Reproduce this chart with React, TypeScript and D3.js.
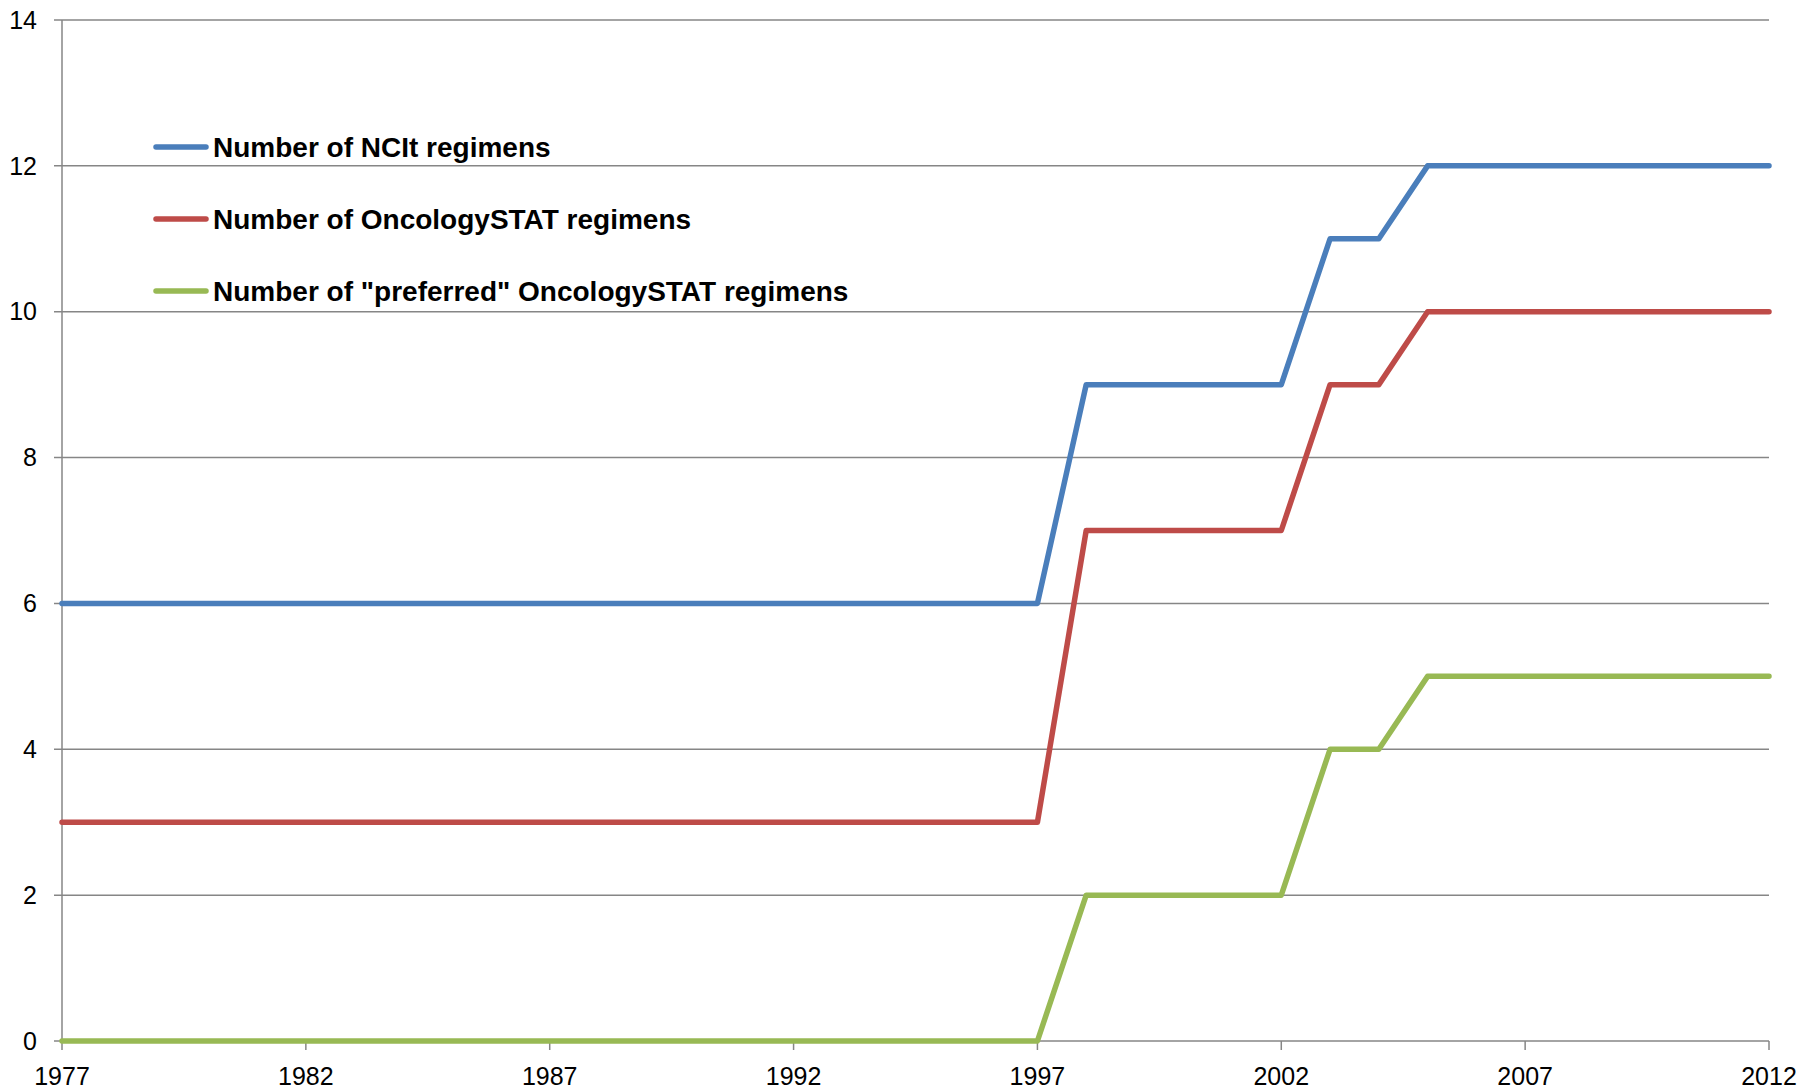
import React from 'react';
import * as d3 from 'd3';

// years 1977..2012, one point per year
const years = [
  1977, 1978, 1979, 1980, 1981, 1982, 1983, 1984, 1985, 1986, 1987, 1988,
  1989, 1990, 1991, 1992, 1993, 1994, 1995, 1996, 1997, 1998, 1999, 2000,
  2001, 2002, 2003, 2004, 2005, 2006, 2007, 2008, 2009, 2010, 2011, 2012,
];

const ncit = [
  6, 6, 6, 6, 6, 6, 6, 6, 6, 6, 6, 6, 6, 6, 6, 6, 6, 6, 6, 6, 6,
  9, 9, 9, 9, 9, 11, 11, 12, 12, 12, 12, 12, 12, 12, 12,
];
const oncologyStat = [
  3, 3, 3, 3, 3, 3, 3, 3, 3, 3, 3, 3, 3, 3, 3, 3, 3, 3, 3, 3, 3,
  7, 7, 7, 7, 7, 9, 9, 10, 10, 10, 10, 10, 10, 10, 10,
];
const preferred = [
  0, 0, 0, 0, 0, 0, 0, 0, 0, 0, 0, 0, 0, 0, 0, 0, 0, 0, 0, 0, 0,
  2, 2, 2, 2, 2, 4, 4, 5, 5, 5, 5, 5, 5, 5, 5,
];

const seriesNames = [
  'Number of NCIt regimens',
  'Number of OncologySTAT regimens',
  'Number of "preferred" OncologySTAT regimens',
];
const seriesColors = ['#4A7EBB', '#BE4B48', '#98B954'];

const xTickYears = [1977, 1982, 1987, 1992, 1997, 2002, 2007, 2012];
const yTicks = [0, 2, 4, 6, 8, 10, 12, 14];

const W = 1813;
const H = 1090;
const AXIS = '#868686';
const FONT = '"Liberation Sans", Arial, sans-serif';

export default function App() {
  const x = d3.scaleLinear().domain([1977, 2012]).range([62, 1769]);
  const y = d3.scaleLinear().domain([0, 14]).range([1041, 20]);

  const series = [ncit, oncologyStat, preferred];
  const line = d3
    .line<number>()
    .x((_, i) => x(years[i]))
    .y((d) => y(d));

  return (
    <svg
      width={W}
      height={H}
      style={{ position: 'absolute', left: 0, top: 0, background: '#fff' }}
    >
      {/* horizontal grid + y ticks */}
      {yTicks.map((t) => (
        <g key={t}>
          <line x1={54} x2={1769} y1={y(t)} y2={y(t)} stroke={AXIS} strokeWidth={1.5} />
          <text
            x={37}
            y={y(t)}
            dy="0.35em"
            textAnchor="end"
            fontFamily={FONT}
            fontSize={25}
            fill="#000"
          >
            {t}
          </text>
        </g>
      ))}

      {/* y axis line */}
      <line x1={62} x2={62} y1={y(14)} y2={y(0)} stroke={AXIS} strokeWidth={1.5} />

      {/* x ticks */}
      {xTickYears.map((yr) => (
        <g key={yr}>
          <line x1={x(yr)} x2={x(yr)} y1={y(0)} y2={y(0) + 9} stroke={AXIS} strokeWidth={1.5} />
          <text
            x={x(yr)}
            y={1085}
            textAnchor="middle"
            fontFamily={FONT}
            fontSize={25}
            fill="#000"
          >
            {yr}
          </text>
        </g>
      ))}

      {/* series lines */}
      {series.map((s, i) => (
        <path
          key={i}
          d={line(s) ?? ''}
          fill="none"
          stroke={seriesColors[i]}
          strokeWidth={5.5}
          strokeLinejoin="round"
          strokeLinecap="round"
        />
      ))}

      {/* legend */}
      {seriesNames.map((name, i) => {
        const ly = 147 + i * 72;
        return (
          <g key={name}>
            <line
              x1={156}
              x2={206}
              y1={ly}
              y2={ly}
              stroke={seriesColors[i]}
              strokeWidth={5.5}
              strokeLinecap="round"
            />
            <text
              x={213}
              y={ly}
              dy="0.35em"
              fontFamily={FONT}
              fontWeight="bold"
              fontSize={28}
              fill="#000"
            >
              {name}
            </text>
          </g>
        );
      })}
    </svg>
  );
}
